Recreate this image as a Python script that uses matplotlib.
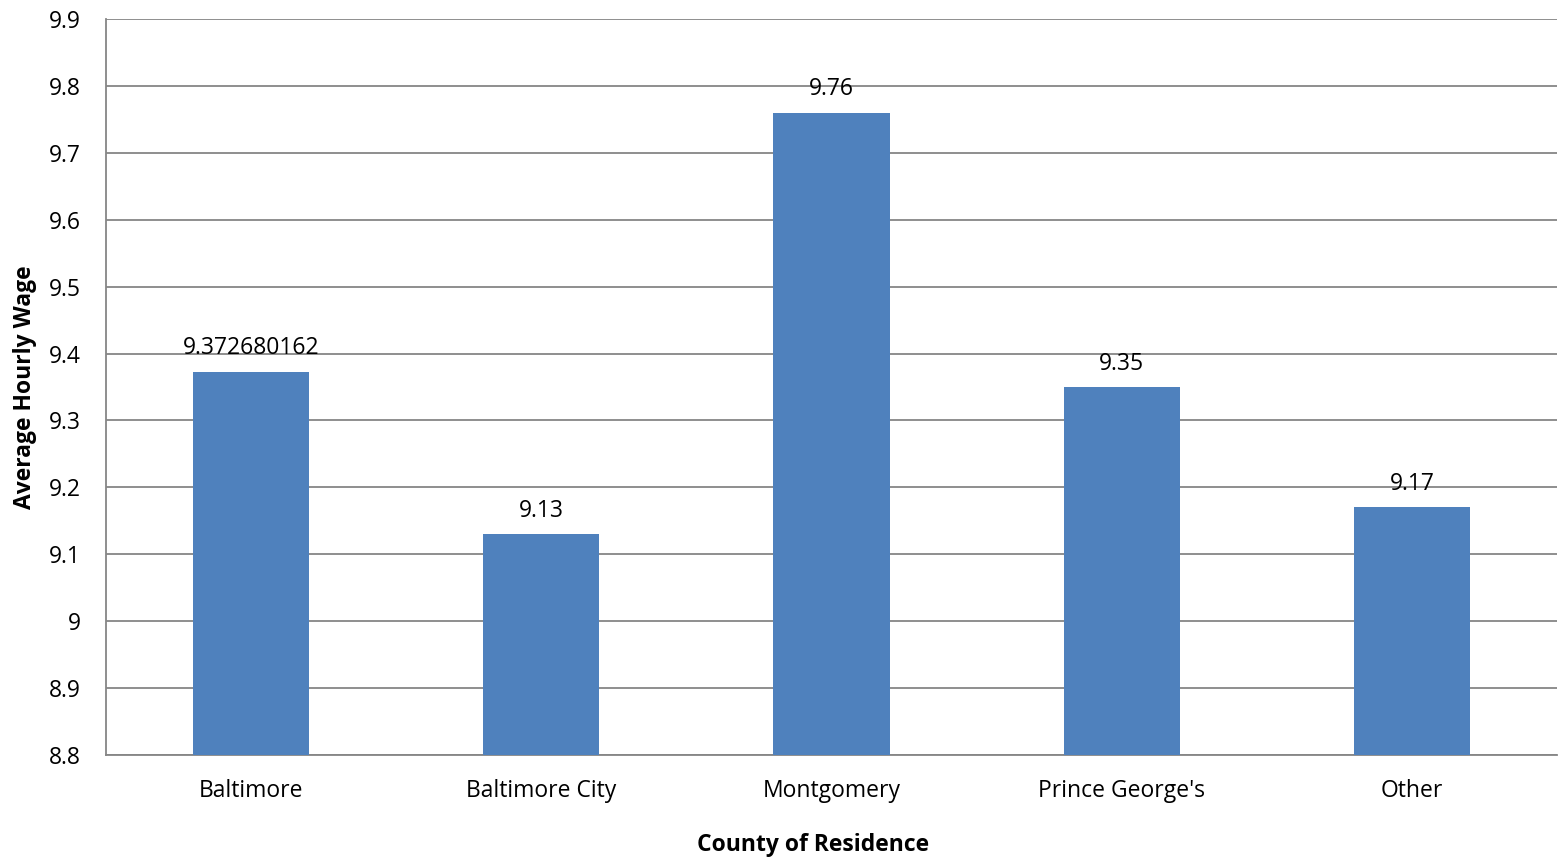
import matplotlib
matplotlib.use("Agg")
import matplotlib.pyplot as plt

categories = ["Baltimore", "Baltimore City", "Montgomery", "Prince George's", "Other"]
values = [9.372680162, 9.13, 9.76, 9.35, 9.17]
labels = ["9.372680162", "9.13", "9.76", "9.35", "9.17"]
yticks = [8.8, 8.9, 9.0, 9.1, 9.2, 9.3, 9.4, 9.5, 9.6, 9.7, 9.8, 9.9]
ytick_labels = ["8.8", "8.9", "9", "9.1", "9.2", "9.3", "9.4", "9.5", "9.6", "9.7", "9.8", "9.9"]

plt.rcParams['font.family'] = ['Open Sans', 'DejaVu Sans']
FS = 16.5

fig = plt.figure(figsize=(15.59, 8.6), dpi=100)
ax = fig.add_axes([106/1559, 1-755/860, (1557-106)/1559, (755-19)/860])

base = 8.8
x = list(range(len(categories)))
bars = ax.bar(x, [v - base for v in values], bottom=base, width=0.4, color="#4F81BD", zorder=3)
for xi, v, lab in zip(x, values, labels):
    ax.text(xi, v + 0.017, lab, ha="center", va="bottom", fontsize=FS, color="black")

ax.set_xlim(-0.5, len(categories) - 0.5)
ax.set_ylim(8.8, 9.9)
ax.set_yticks(yticks)
ax.set_yticklabels(ytick_labels, fontsize=FS)
ax.set_xticks(x)
ax.set_xticklabels(categories, fontsize=FS)
ax.tick_params(axis="x", length=0, pad=17)
ax.tick_params(axis="y", length=0, pad=18)
ax.yaxis.grid(True, color="#868686", linewidth=1.3, zorder=0)
for s in ["top", "right"]:
    ax.spines[s].set_visible(False)
for s in ["left", "bottom"]:
    ax.spines[s].set_color("#868686")
    ax.spines[s].set_linewidth(1.3)

ax.set_xlabel("County of Residence", fontsize=FS, fontweight="bold", va="center")
ax.xaxis.set_label_coords((813 - 106) / 1451, -(845 - 755) / 736)
ax.set_ylabel("Average Hourly Wage", fontsize=FS, fontweight="bold")
ax.yaxis.set_label_coords(-(106 - 37) / 1451, 0.5)

fig.savefig("out.png", dpi=100)
